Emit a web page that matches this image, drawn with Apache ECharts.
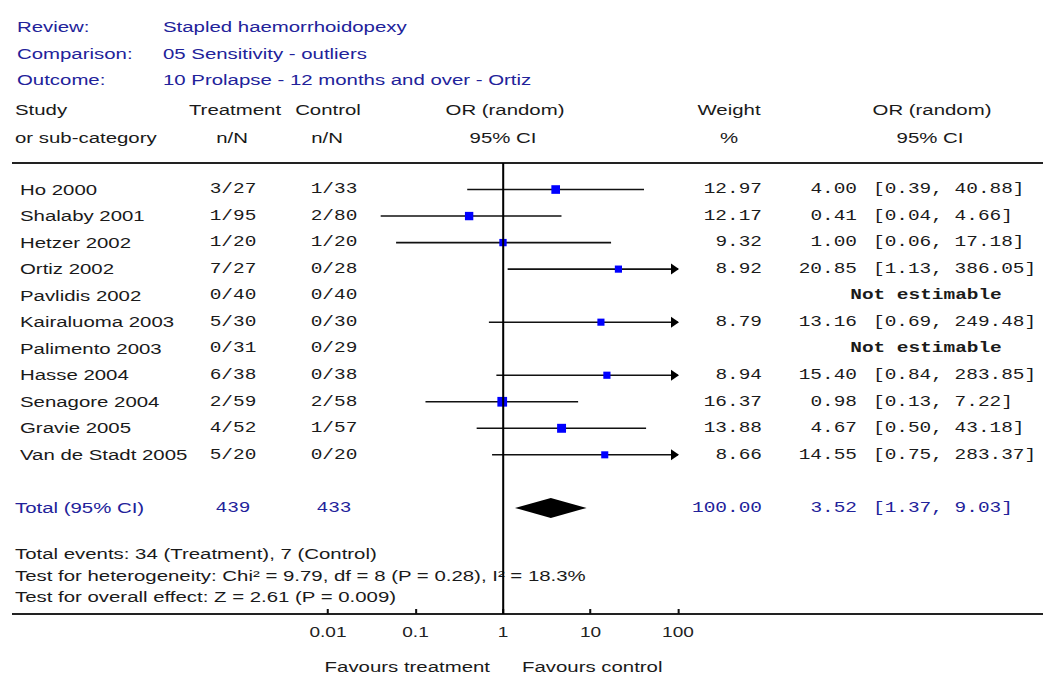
<!DOCTYPE html>
<html>
<head>
<meta charset="utf-8">
<script src="https://cdn.jsdelivr.net/npm/echarts@6/dist/echarts.min.js"></script>
<style>
  html, body { margin: 0; padding: 0; background: #fff; overflow: hidden; }
  /* the RevMan-style panel is drawn narrow and widened horizontally */
  #chart { width: 767px; height: 675px; transform: scaleX(1.36); transform-origin: 0 0; }
</style>
</head>
<body>
<div id="chart"></div>
<script>
// ---- data ----
const studies = ['Ho 2000', 'Shalaby 2001', 'Hetzer 2002', 'Ortiz 2002', 'Pavlidis 2002', 'Kairaluoma 2003',
  'Palimento 2003', 'Hasse 2004', 'Senagore 2004', 'Gravie 2005', 'Van de Stadt 2005'];
const treatment = ['3/27', '1/95', '1/20', '7/27', '0/40', '5/30', '0/31', '6/38', '2/59', '4/52', '5/20'];
const control = ['1/33', '2/80', '1/20', '0/28', '0/40', '0/30', '0/29', '0/38', '2/58', '1/57', '0/20'];
const weights = [12.97, 12.17, 9.32, 8.92, null, 8.79, null, 8.94, 16.37, 13.88, 8.66];
const oddsRatio = [4.00, 0.41, 1.00, 20.85, null, 13.16, null, 15.40, 0.98, 4.67, 14.55];
const ciLow = [0.39, 0.04, 0.06, 1.13, null, 0.69, null, 0.84, 0.13, 0.50, 0.75];
const ciHigh = [40.88, 4.66, 17.18, 386.05, null, 249.48, null, 283.85, 7.22, 43.18, 283.37];
const totalN = ['439', '433'];
const totalWeight = 100.00;
const totalOR = [3.52, 1.37, 9.03]; // estimate, lower, upper
const tickValues = [0.01, 0.1, 1, 10, 100];
const tickLabels = ['0.01', '0.1', '1', '10', '100'];
const headerInfo = [
  ['Review:', 'Stapled haemorrhoidopexy'],
  ['Comparison:', '05 Sensitivity - outliers'],
  ['Outcome:', '10 Prolapse - 12 months and over - Ortiz']
];
const footerLines = [
  'Total events: 34 (Treatment), 7 (Control)',
  'Test for heterogeneity: Chi\u00b2 = 9.79, df = 8 (P = 0.28), I\u00b2 = 18.3%',
  'Test for overall effect: Z = 2.61 (P = 0.009)'
];

// ---- layout ----
const SX = 1.36;                 // horizontal stretch applied by CSS
const W = 767, H = 675;
const px = x => x / SX;          // display x -> drawing x
const AX_MIN = 0.01, AX_MAX = 100;
const GRID_TOP = 163, GRID_BOTTOM = 614, ROWS = 17;
const TOTAL_ROW = 13;
const SANS = '"Liberation Sans", Arial, sans-serif';
const MONO = '"Liberation Mono", "Courier New", monospace';
const BLUE = '#22229a';
const INK = '#1a1a1a';
const COL = {
  study: px(20), treat: px(233), ctrl: px(334),
  weight: px(762), or: px(857), ci: px(873), notEst: px(926)
};

function txt(x, y, text, o) {
  o = o || {};
  const align = o.align || 'left';
  return {
    type: 'text', x: x, y: y, silent: true,
    style: {
      text: text, fill: o.color || INK,
      fontSize: o.size || 15, fontFamily: o.family || SANS, fontWeight: o.weight || 'normal',
      align: align, textAlign: align, verticalAlign: 'middle', textVerticalAlign: 'middle'
    }
  };
}

const studyRows = studies.map((s, i) => [i + 1, i]);
const ciData = [];
studies.forEach((s, i) => {
  if (oddsRatio[i] != null) ciData.push([i + 1, oddsRatio[i], ciLow[i], ciHigh[i], weights[i]]);
});

// ---- static texts ----
const graphics = [];
const headY = [27, 53.5, 80];
headerInfo.forEach((h, i) => {
  graphics.push(txt(px(17), headY[i], h[0], { color: BLUE }));
  graphics.push(txt(px(163), headY[i], h[1], { color: BLUE }));
});
graphics.push(txt(px(15), 110, 'Study'));
graphics.push(txt(px(15), 138, 'or sub-category'));
graphics.push(txt(px(235), 110, 'Treatment', { align: 'center' }));
graphics.push(txt(px(232), 138, 'n/N', { align: 'center' }));
graphics.push(txt(px(328), 110, 'Control', { align: 'center' }));
graphics.push(txt(px(327), 138, 'n/N', { align: 'center' }));
graphics.push(txt(px(505), 110, 'OR (random)', { align: 'center' }));
graphics.push(txt(px(503), 138, '95% CI', { align: 'center' }));
graphics.push(txt(px(729), 110, 'Weight', { align: 'center' }));
graphics.push(txt(px(729), 138, '%', { align: 'center' }));
graphics.push(txt(px(932), 110, 'OR (random)', { align: 'center' }));
graphics.push(txt(px(930), 138, '95% CI', { align: 'center' }));
const footY = [554, 575.5, 597];
footerLines.forEach((l, i) => graphics.push(txt(px(15), footY[i], l)));
graphics.push(txt(px(490), 667, 'Favours treatment', { align: 'right' }));
graphics.push(txt(px(522), 667, 'Favours control', { align: 'left' }));
// rules above the rows and along the scale
[GRID_TOP, GRID_BOTTOM].forEach(y => graphics.push({
  type: 'line', silent: true, z: -1,
  shape: { x1: px(12), y1: y, x2: W, y2: y },
  style: { stroke: '#222', lineWidth: 2 }
}));

const chart = echarts.init(document.getElementById('chart'), null, { renderer: 'svg' });
chart.setOption({
  animation: false,
  backgroundColor: '#ffffff',
  graphic: graphics,
  grid: { left: px(328), width: px(678) - px(328), top: GRID_TOP, height: GRID_BOTTOM - GRID_TOP },
  xAxis: {
    type: 'log', logBase: 10, min: AX_MIN, max: AX_MAX, position: 'bottom',
    axisLine: { show: false, onZero: false },
    splitLine: { show: false },
    axisTick: { show: true, inside: true, length: 5, lineStyle: { color: '#111', width: 1.5 } },
    axisLabel: {
      color: '#222', fontSize: 14, fontFamily: SANS, margin: 11,
      formatter: v => {
        const k = tickValues.findIndex(t => Math.abs(Math.log10(t) - Math.log10(v)) < 1e-6);
        return k >= 0 ? tickLabels[k] : '';
      }
    }
  },
  yAxis: { type: 'value', min: 0, max: ROWS, inverse: true, show: false },
  series: [
    {
      // confidence intervals and weighted point estimates
      type: 'custom', name: 'studies', data: ciData, silent: true, clip: false,
      renderItem: (params, api) => {
        const row = api.value(0), est = api.value(1), lo = api.value(2), hi = api.value(3), w = api.value(4);
        const a = api.coord([Math.max(lo, AX_MIN), row]);
        const b = api.coord([Math.min(hi, AX_MAX), row]);
        const e = api.coord([est, row]);
        const kids = [{
          type: 'line', shape: { x1: a[0], y1: a[1], x2: b[0], y2: b[1] },
          style: { stroke: '#111', lineWidth: 1.6 }
        }];
        if (hi > AX_MAX) {
          const tip = b[0] + px(1);
          kids.push({
            type: 'polygon',
            shape: { points: [[tip - px(8), b[1] - 5.5], [tip, b[1]], [tip - px(8), b[1] + 5.5]] },
            style: { fill: '#000' }
          });
        }
        const s = 2.4 * Math.sqrt(w);
        kids.push({
          type: 'rect', shape: { x: e[0] - px(s) / 2, y: e[1] - s / 2, width: px(s), height: s },
          style: { fill: '#0000ff' }
        });
        return { type: 'group', children: kids };
      },
      markLine: {
        silent: true, symbol: ['none', 'none'], label: { show: false },
        lineStyle: { color: '#000', width: 1.5, type: 'solid' },
        data: [{ xAxis: 1 }]
      }
    },
    {
      // pooled estimate
      type: 'custom', name: 'total', data: [[TOTAL_ROW].concat(totalOR)], silent: true, clip: false,
      renderItem: (params, api) => {
        const row = api.value(0);
        const e = api.coord([api.value(1), row]);
        const a = api.coord([api.value(2), row]);
        const b = api.coord([api.value(3), row]);
        return {
          type: 'polygon',
          shape: { points: [[a[0], a[1]], [e[0], e[1] - 10], [b[0], b[1]], [e[0], e[1] + 10]] },
          style: { fill: '#000' }
        };
      }
    },
    {
      // study table columns
      type: 'custom', name: 'table', data: studyRows, silent: true, clip: false,
      renderItem: (params, api) => {
        const row = api.value(0), i = api.value(1);
        const y = api.coord([1, row])[1];
        const kids = [
          txt(COL.study, y, studies[i]),
          txt(COL.treat, y, treatment[i], { family: MONO, size: 14.3, align: 'center' }),
          txt(COL.ctrl, y, control[i], { family: MONO, size: 14.3, align: 'center' })
        ];
        if (oddsRatio[i] == null) {
          kids.push(txt(COL.notEst, y, 'Not estimable', { family: MONO, size: 14.3, weight: 'bold', align: 'center' }));
        } else {
          kids.push(txt(COL.weight, y, weights[i].toFixed(2), { family: MONO, size: 14.3, align: 'right' }));
          kids.push(txt(COL.or, y, oddsRatio[i].toFixed(2), { family: MONO, size: 14.3, align: 'right' }));
          kids.push(txt(COL.ci, y, '[' + ciLow[i].toFixed(2) + ', ' + ciHigh[i].toFixed(2) + ']', { family: MONO, size: 14.3 }));
        }
        return { type: 'group', children: kids };
      }
    },
    {
      // total row
      type: 'custom', name: 'totalText', data: [[TOTAL_ROW]], silent: true, clip: false,
      renderItem: (params, api) => {
        const y = api.coord([1, api.value(0)])[1];
        const m = { family: MONO, size: 14.3, color: BLUE };
        return {
          type: 'group', children: [
            txt(px(15), y, 'Total (95% CI)', { color: BLUE }),
            txt(COL.treat, y, totalN[0], Object.assign({ align: 'center' }, m)),
            txt(COL.ctrl, y, totalN[1], Object.assign({ align: 'center' }, m)),
            txt(COL.weight, y, totalWeight.toFixed(2), Object.assign({ align: 'right' }, m)),
            txt(COL.or, y, totalOR[0].toFixed(2), Object.assign({ align: 'right' }, m)),
            txt(COL.ci, y, '[' + totalOR[1].toFixed(2) + ', ' + totalOR[2].toFixed(2) + ']', m)
          ]
        };
      }
    }
  ]
});
</script>
</body>
</html>
